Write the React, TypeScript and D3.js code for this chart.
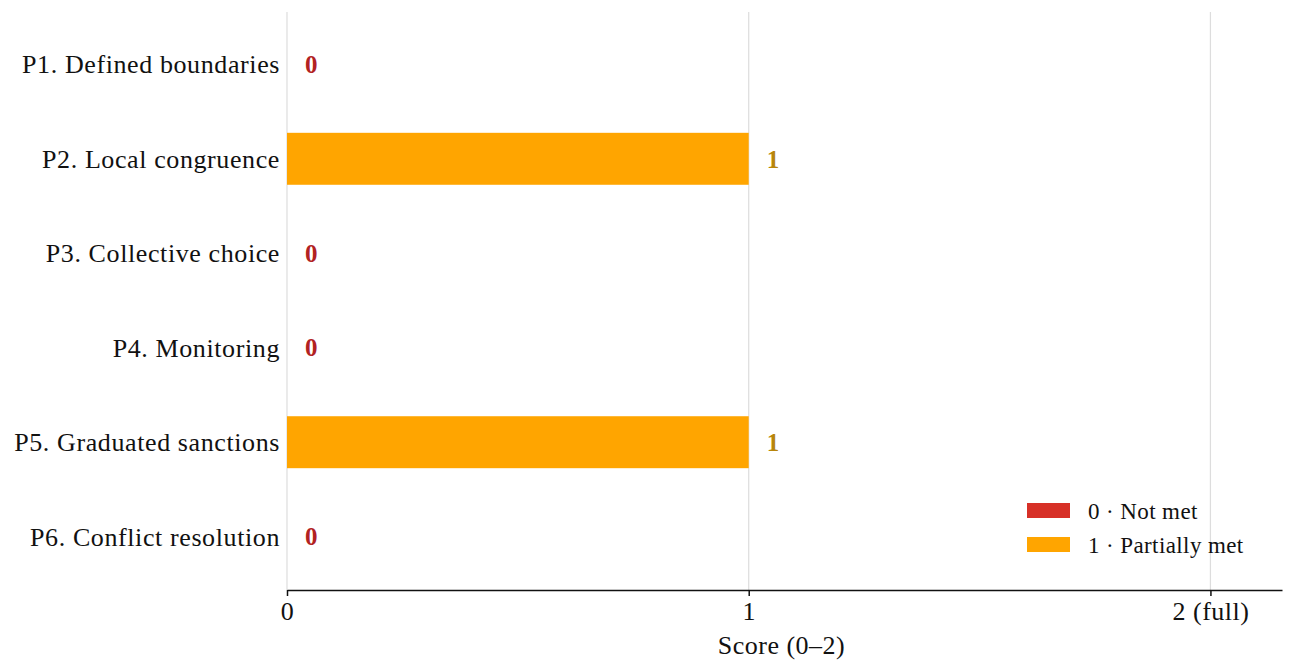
import { useEffect, useRef } from "react";
import * as d3 from "d3";

const principles = [
  "P1. Defined boundaries",
  "P2. Local congruence",
  "P3. Collective choice",
  "P4. Monitoring",
  "P5. Graduated sanctions",
  "P6. Conflict resolution",
];
const scores = [0, 1, 0, 0, 1, 0];
const xTicks = [0, 1, 2];
const xTickLabels = ["0", "1", "2 (full)"];
const legendLabels = ["0 · Not met", "1 · Partially met"];

const barColors = ["#d73027", "#ffa500"];
const labelColors = ["#b22222", "#b8860b"];

const W = 1292;
const H = 670;
const FONT = "'Palatino Linotype', Palatino, 'Book Antiqua', 'Liberation Serif', serif";

export default function App() {
  const svgRef = useRef<SVGSVGElement>(null);

  useEffect(() => {
    if (!svgRef.current) return;
    const margin = { top: 12, right: 10, bottom: 80, left: 287 };
    const chartW = W - margin.left - margin.right;
    const chartH = H - margin.top - margin.bottom;

    const svg = d3.select(svgRef.current);
    svg.selectAll("*").remove();
    svg.attr("width", W).attr("height", H).style("font-family", FONT);

    const g = svg.append("g").attr("transform", `translate(${margin.left},${margin.top})`);

    const x = d3.scaleLinear().domain([0, 2.155]).range([0, chartW]);
    const y = d3
      .scaleBand()
      .domain(principles)
      .range([-2, chartH + 1])
      .paddingInner(0.45)
      .paddingOuter(0.3);

    // Grid lines
    g.append("g")
      .selectAll("line")
      .data(xTicks)
      .join("line")
      .attr("x1", (d) => x(d))
      .attr("x2", (d) => x(d))
      .attr("y1", 0)
      .attr("y2", chartH)
      .attr("stroke", "#dddddd")
      .attr("stroke-width", 1.2);

    // Bars
    g.append("g")
      .selectAll("rect")
      .data(principles)
      .join("rect")
      .attr("x", x(0))
      .attr("y", (d) => y(d)!)
      .attr("width", (_, i) => x(scores[i]) - x(0))
      .attr("height", y.bandwidth())
      .attr("fill", (_, i) => barColors[scores[i]]);

    // Value labels
    g.append("g")
      .selectAll("text")
      .data(principles)
      .join("text")
      .attr("x", (_, i) => x(scores[i]) + 18)
      .attr("y", (d) => y(d)! + y.bandwidth() / 2)
      .attr("dy", "0.35em")
      .style("font-size", "25px")
      .style("font-weight", "bold")
      .style("fill", (_, i) => labelColors[scores[i]])
      .text((_, i) => String(scores[i]));

    // Category labels
    g.append("g")
      .selectAll("text")
      .data(principles)
      .join("text")
      .attr("x", -7)
      .attr("y", (d) => y(d)! + y.bandwidth() / 2)
      .attr("dy", "0.35em")
      .attr("text-anchor", "end")
      .style("font-size", "26px")
      .style("letter-spacing", "0.6px")
      .style("fill", "#111")
      .text((d) => d);

    // X axis
    g.append("g")
      .attr("transform", `translate(0,${chartH})`)
      .call(
        d3
          .axisBottom(x)
          .tickValues(xTicks)
          .tickSize(6)
          .tickSizeOuter(0)
          .tickFormat((_, i) => xTickLabels[i])
      )
      .call((a) => a.select(".domain").attr("stroke", "#111").attr("stroke-width", 1.5))
      .call((a) => a.selectAll(".tick line").attr("stroke", "#111").attr("stroke-width", 1.5))
      .selectAll("text")
      .attr("y", 12)
      .style("font-family", FONT)
      .style("font-size", "26px")
      .style("letter-spacing", "0.5px")
      .style("fill", "#111");

    g.append("text")
      .attr("x", chartW / 2 - 3)
      .attr("y", chartH + 64)
      .attr("text-anchor", "middle")
      .style("font-size", "26px")
      .style("letter-spacing", "0.5px")
      .style("fill", "#111")
      .text("Score (0–2)");

    // Legend
    const legend = svg.append("g").attr("transform", `translate(1027,503)`);
    legendLabels.forEach((lab, i) => {
      const lg = legend.append("g").attr("transform", `translate(0,${i * 34})`);
      lg.append("rect").attr("width", 43).attr("height", 15).attr("fill", barColors[i]);
      lg.append("text")
        .attr("x", 61)
        .attr("y", 8)
        .attr("dy", "0.35em")
        .style("font-size", "23px")
        .style("letter-spacing", "0.4px")
        .style("fill", "#111")
        .text(lab);
    });
  }, []);

  return <svg ref={svgRef} style={{ display: "block", position: "absolute", left: 0, top: 0 }} />;
}
